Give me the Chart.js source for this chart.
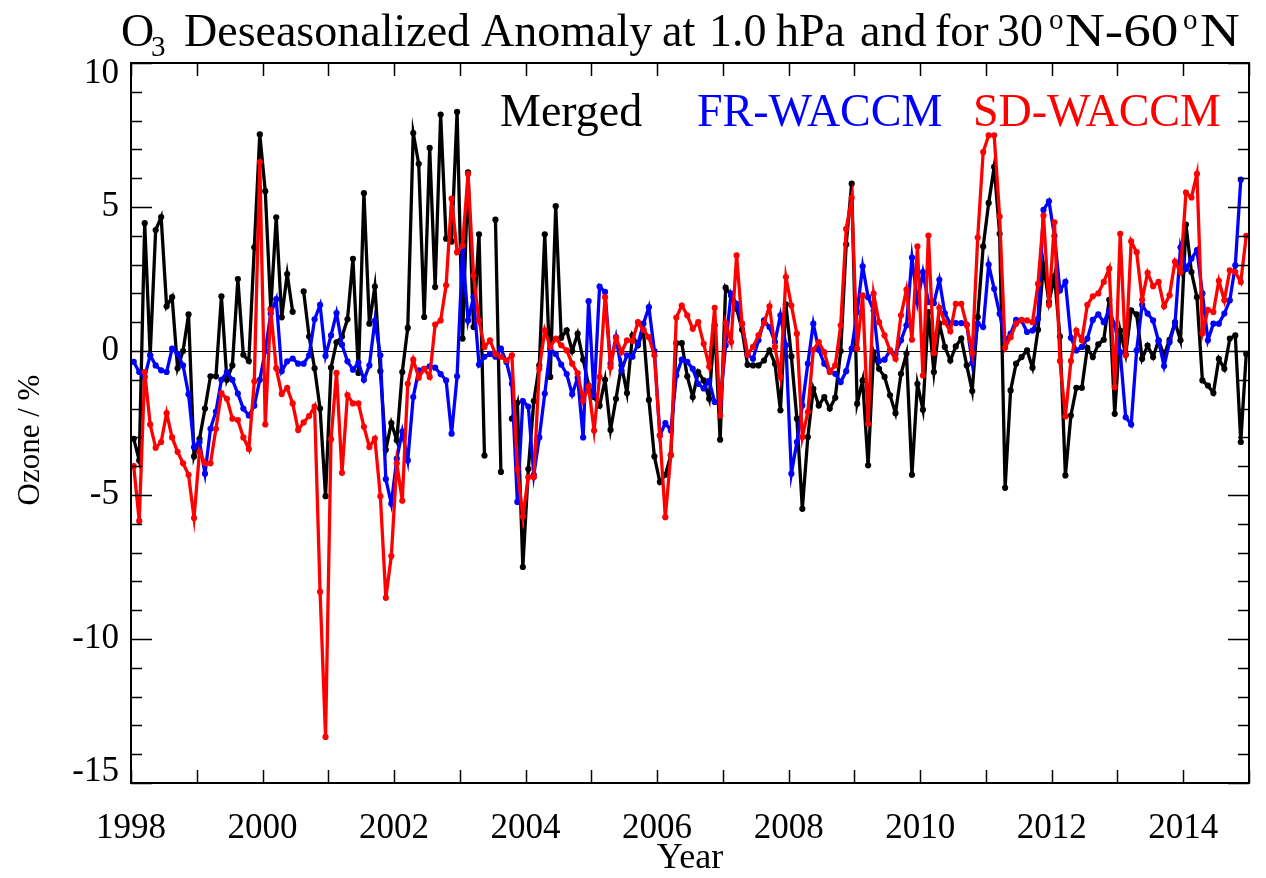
<!DOCTYPE html>
<html><head><meta charset="utf-8">
<script src="https://cdn.jsdelivr.net/npm/chart.js@4.4.0/dist/chart.umd.min.js"></script>
<style>html,body{margin:0;padding:0;background:#fff;}canvas{display:block;}</style>
</head><body>
<canvas id="c" width="1266" height="878"></canvas>
<script>
// ---- data (monthly anomalies, %, starting Jan 1998) ----
const startYear = 1998;
const merged = [
-3.05,-3.8,4.44,-0.15,4.2,4.65,1.55,1.87,-0.6,0.0,1.27,-3.66,
-3.05,-2.0,-0.88,-0.88,1.9,-1.0,-0.5,2.5,-0.13,-0.35,3.6,7.52,
5.55,1.46,4.64,1.17,2.67,1.36,null,2.07,0.5,-0.6,-2.0,-5.04,
-0.58,0.3,0.5,1.1,3.2,-0.76,5.48,0.95,2.24,-0.7,-3.43,-2.5,
-3.1,-0.73,0.8,7.57,6.5,1.18,7.05,2.22,8.21,3.9,3.8,8.3,
0.43,6.2,0.83,4.05,-3.63,null,4.56,-4.2,null,-2.35,-1.8,-7.5,
-4.1,-1.74,-0.5,4.05,-0.9,5.03,0.46,0.72,0.0,0.6,-0.3,-1.2,
-1.6,-1.9,-1.0,-2.74,-1.66,-0.5,-1.46,0.54,0.2,0.72,-1.7,-3.66,
-4.55,-4.3,-3.62,0.27,0.27,-0.88,-1.6,-0.73,-1.02,-1.66,0.89,-3.08,
2.2,1.93,1.47,0.74,-0.48,-0.5,-0.5,-0.33,0.02,-0.44,-2.06,1.62,
-0.19,-2.35,-5.48,-2.99,-1.31,-1.89,-1.6,-2.0,-1.62,0.0,3.7,5.81,
-1.83,-1.02,-3.97,-0.04,-0.62,-0.9,-1.54,-2.16,-0.79,-0.09,-4.3,-1.14,
-2.04,1.35,-0.73,0.95,0.14,-0.33,0.16,0.43,-0.5,-1.39,1.18,3.63,
5.14,6.39,4.07,-4.75,-1.37,-0.44,-0.21,0.02,-0.58,0.74,3.0,1.7,
2.6,0.5,-4.32,-2.24,-1.28,-1.28,0.11,-0.21,0.23,0.39,1.78,-2.18,
0.71,-0.12,1.41,1.27,-0.27,0.19,-0.21,0.37,-0.15,0.39,1.0,0.37,
4.39,2.74,1.87,-1.02,-1.2,-1.46,-0.27,-0.62,0.43,0.54,-3.16,-0.1
];
const frWaccm = [
-0.38,-0.73,-0.9,-0.15,-0.5,-0.67,-0.73,0.08,-0.1,-0.5,-1.5,-3.34,
-3.16,-4.26,-2.7,-2.1,-1.0,-0.73,-1.0,-1.48,-2.0,-2.24,-1.9,-1.0,
0.0,1.3,1.8,-0.7,-0.36,-0.26,-0.44,-0.44,-0.15,1.1,1.6,-0.17,
0.54,1.32,0.22,-0.36,-0.65,-0.4,-1.0,-0.5,1.05,-0.15,-4.45,-5.3,
-3.74,-2.8,-3.8,-1.6,-0.67,-0.62,-0.53,-0.58,-0.8,-1.02,-2.87,-0.88,
3.5,1.06,1.87,-0.47,-0.2,-0.1,-0.2,0.08,-0.38,-1.14,-5.24,-1.74,
-1.93,-4.3,-3.0,-1.48,0.08,-0.1,-0.47,-0.8,-1.5,-0.93,-3.0,1.73,
-1.54,2.24,2.05,-0.44,0.48,-0.67,-0.15,-0.2,0.25,0.95,1.52,0.0,
-2.93,-2.5,-2.76,-0.85,-0.3,-0.38,-0.62,-1.14,-1.3,-1.04,-1.77,-1.83,
0.19,1.99,1.64,0.95,-0.12,-0.27,0.37,1.06,0.83,0.31,1.24,0.2,
-4.26,-3.16,-1.89,-0.44,0.95,0.04,-0.44,-0.68,-0.79,-1.08,-0.7,0.08,
1.35,2.94,1.87,1.4,-0.35,-0.3,0.02,-0.1,0.37,0.89,3.24,1.7,
2.74,1.7,1.66,2.47,1.31,0.95,0.97,0.97,0.92,-0.42,0.95,0.83,
3.0,2.16,1.29,0.37,0.6,1.08,1.06,0.66,0.71,1.12,4.9,5.2,
4.0,2.1,2.4,0.46,0.02,0.14,0.43,1.08,1.27,1.0,1.41,0.9,
-0.04,-2.3,-2.55,0.02,1.6,1.3,1.06,0.34,-0.52,0.3,0.95,3.6,
2.85,3.2,3.5,2.0,0.37,0.95,0.95,1.3,1.76,2.97,5.95
];
const sdWaccm = [
-4.0,-5.9,-0.73,-2.55,-3.36,-3.16,-2.16,-3.0,-3.5,-3.9,-4.3,-5.8,
-3.5,-3.9,-3.9,-2.7,-1.46,-1.66,-2.35,-2.4,-3.0,-3.4,-1.05,6.56,
-2.55,1.43,-0.6,-1.49,-1.28,-1.82,-2.74,-2.48,-2.26,-1.93,-8.36,-13.4,
-3.06,-0.76,-4.23,-1.53,-1.82,-1.82,-2.63,-3.33,-3.04,-5.04,-8.57,-7.12,
-3.9,-5.2,-1.14,-0.3,-0.93,-0.62,-0.9,0.92,1.06,2.28,5.29,3.43,
3.66,6.15,2.62,1.06,0.14,0.37,-0.1,-0.2,-0.33,-0.15,-4.1,-5.75,
-4.38,-4.38,-0.62,0.72,0.14,0.43,0.2,0.02,-0.44,-0.77,-1.72,-1.23,
-2.76,-0.9,1.87,-0.56,0.46,-0.04,0.37,0.35,1.0,0.74,0.48,-0.15,
-2.93,-5.77,-3.6,1.16,1.58,1.24,0.77,1.0,0.25,-0.54,1.5,-2.24,
0.97,0.31,3.32,0.95,-0.12,0.14,0.54,0.97,1.55,0.14,-0.9,2.57,
1.58,0.6,-2.99,-2.12,0.04,0.31,-0.04,-0.73,-0.5,0.89,4.24,5.32,
0.08,1.93,-2.53,1.99,1.0,0.54,0.02,-0.27,1.24,2.13,0.39,3.63,
-0.85,4.01,-0.07,1.5,1.0,0.69,1.64,1.64,0.89,-0.07,3.94,6.91,
7.49,7.49,4.67,0.11,0.48,0.95,1.08,1.06,1.0,2.33,4.7,1.6,
4.47,-0.35,-2.27,-0.35,0.71,0.37,1.6,1.9,2.0,2.4,2.86,-1.26,
4.07,-0.15,3.81,3.43,1.78,2.71,2.25,2.4,1.55,1.94,3.1,2.74,
5.5,5.33,6.15,0.62,1.43,1.35,2.44,1.76,2.8,2.74,2.4,4.0
];
const yMajorTicks = [10, 5, 0, -5, -10, -15];
const xTickLabels = [1998, 2000, 2002, 2004, 2006, 2008, 2010, 2012, 2014];
const seriesNames = ['Merged', 'FR-WACCM', 'SD-WACCM'];
const seriesColors = ['#000000', '#0000ff', '#ff0000'];

const toPoints = arr => arr.map((v, i) => ({ x: startYear + (i + 0.5) / 12, y: v }));
const SERIF = '"Liberation Serif", "DejaVu Serif", serif';

const axesPlugin = {
  id: 'idlAxes',
  beforeDatasetsDraw(chart) {
    const { ctx, chartArea: a, scales: { y } } = chart;
    ctx.save();
    ctx.strokeStyle = '#000'; ctx.lineWidth = 1.2;
    const y0 = Math.round(y.getPixelForValue(0)) + 0.5;
    ctx.beginPath(); ctx.moveTo(a.left, y0); ctx.lineTo(a.right, y0); ctx.stroke();
    ctx.restore();
  },
  afterDraw(chart) {
    const { ctx, chartArea: a, scales: { x, y } } = chart;
    ctx.save();
    ctx.strokeStyle = '#000'; ctx.lineWidth = 2;
    ctx.strokeRect(a.left, a.top, a.right - a.left, a.bottom - a.top);
    ctx.lineWidth = 1.5;
    ctx.beginPath();
    for (let v = y.min; v <= y.max; v += 1) {
      const p = Math.round(y.getPixelForValue(v)) + 0.5;
      const len = (v % 5 === 0) ? 21 : 11;
      ctx.moveTo(a.left, p); ctx.lineTo(a.left + len, p);
      ctx.moveTo(a.right, p); ctx.lineTo(a.right - len, p);
    }
    for (let yr = x.min; yr <= x.max; yr += 1) {
      const p = Math.round(x.getPixelForValue(yr)) + 0.5;
      ctx.moveTo(p, a.bottom); ctx.lineTo(p, a.bottom - 13);
      ctx.moveTo(p, a.top); ctx.lineTo(p, a.top + 13);
    }
    ctx.stroke();

    ctx.fillStyle = '#000';
    ctx.font = '35px ' + SERIF;
    ctx.textAlign = 'right'; ctx.textBaseline = 'middle';
    yMajorTicks.forEach(v => {
      let p = y.getPixelForValue(v);
      p = Math.min(Math.max(p, a.top + 11), a.bottom - 11);
      ctx.fillText(String(v), 119, p);
    });
    ctx.textAlign = 'center'; ctx.textBaseline = 'alphabetic';
    xTickLabels.forEach(yr => ctx.fillText(String(yr), x.getPixelForValue(yr), 838));
    ctx.font = '36px ' + SERIF;
    ctx.fillText('Year', (a.left + a.right) / 2, 868);
    ctx.save();
    ctx.font = '31px ' + SERIF;
    ctx.translate(39, 440); ctx.rotate(-Math.PI / 2);
    ctx.textAlign = 'center';
    ctx.fillText('Ozone / %', 0, 0);
    ctx.restore();

    // title: pieces at their left edges (sub/superscripts smaller)
    const F = 46;
    const parts = [
      { t: 'O', x: 121, s: 1, dy: 0, sx: 1 },
      { t: '3', x: 151, s: 0.62, dy: 10, sx: 1 },
      { t: 'Deseasonalized', x: 184, s: 1, dy: 0, sx: 1 },
      { t: 'Anomaly', x: 481, s: 1, dy: 0, sx: 1 },
      { t: 'at', x: 662, s: 1, dy: 0, sx: 1 },
      { t: '1.0', x: 709, s: 1, dy: 0, sx: 1 },
      { t: 'hPa', x: 776, s: 1, dy: 0, sx: 1 },
      { t: 'and', x: 860, s: 1, dy: 0, sx: 1 },
      { t: 'for', x: 935, s: 1, dy: 0, sx: 1 },
      { t: '30', x: 997, s: 1, dy: 0, sx: 1 },
      { t: 'o', x: 1049, s: 0.62, dy: -17, sx: 1 },
      { t: 'N-60', x: 1065, s: 1, dy: 0, sx: 1.2 },
      { t: 'o', x: 1183, s: 0.62, dy: -17, sx: 1 },
      { t: 'N', x: 1200, s: 1, dy: 0, sx: 1.2 }
    ];
    ctx.textAlign = 'left'; ctx.textBaseline = 'alphabetic';
    parts.forEach(pt => {
      ctx.save();
      ctx.font = Math.round(F * pt.s) + 'px ' + SERIF;
      ctx.translate(pt.x, 46 + pt.dy);
      ctx.scale(pt.sx, 1);
      ctx.fillText(pt.t, 0, 0);
      ctx.restore();
    });

    ctx.font = '46px ' + SERIF;
    const lx = [500, 697, 973];
    seriesNames.forEach((n, i) => { ctx.fillStyle = seriesColors[i]; ctx.fillText(n, lx[i], 126); });
    ctx.restore();
  }
};

const mk = (label, arr, color) => ({
  label, data: toPoints(arr), borderColor: color, backgroundColor: color,
  borderWidth: 3.3, pointRadius: 3.1, pointBorderWidth: 0, pointHoverRadius: 0,
  spanGaps: false, tension: 0, fill: false
});

new Chart(document.getElementById('c').getContext('2d'), {
  type: 'line',
  data: { datasets: [
    mk(seriesNames[2], sdWaccm, seriesColors[2]),
    mk(seriesNames[1], frWaccm, seriesColors[1]),
    mk(seriesNames[0], merged, seriesColors[0])
  ] },
  options: {
    responsive: false, animation: false, devicePixelRatio: 1,
    layout: { padding: { left: 131, right: 17, top: 63, bottom: 95 } },
    plugins: { legend: { display: false }, tooltip: { enabled: false } },
    events: [],
    scales: {
      x: { type: 'linear', min: 1998, max: 2015, display: false },
      y: { type: 'linear', min: -15, max: 10, display: false }
    }
  },
  plugins: [axesPlugin]
});
</script>
</body></html>
